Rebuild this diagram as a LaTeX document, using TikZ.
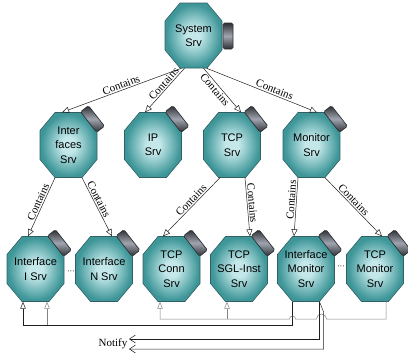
\documentclass[tikz,border=0pt]{standalone}
\usepackage{fontspec}
\setmainfont{Liberation Serif}
\newfontfamily\srvfont{Liberation Sans}
\usetikzlibrary{arrows.meta}

\definecolor{octlight}{RGB}{196,232,234}
\definecolor{octdark}{RGB}{62,150,152}
\definecolor{octline}{RGB}{48,96,100}
\definecolor{portdark}{RGB}{45,47,52}
\definecolor{portlight}{RGB}{160,165,175}
\definecolor{wire}{RGB}{30,30,30}
\definecolor{wiregray}{RGB}{130,130,130}

\pgfdeclareradialshading{octshade}{\pgfpoint{0bp}{0bp}}{%
  color(0bp)=(octlight); color(6bp)=(octlight); color(24bp)=(octdark); color(50bp)=(octdark)}

\tikzset{
  srvtext/.style={shape=rectangle, minimum width=57pt, minimum height=65pt,
    inner sep=0pt, align=center, font=\srvfont\fontsize{11}{14.5}\selectfont},
  octa/.style={shading=octshade, draw=octline, line width=0.6pt},
  port/.style={shape=rectangle, rounded corners=1.5pt, minimum width=26pt,
    minimum height=10pt, inner sep=0pt, draw=portdark, line width=0.7pt,
    top color=portdark, bottom color=portdark, middle color=portlight},
  contains/.style={draw=wire, line width=0.5pt, -{Triangle[open,length=7pt,width=6pt]}},
  upin/.style={line width=0.5pt, -{Triangle[open,length=7pt,width=5.5pt]}},
  barb/.style={draw=wire, line width=0.5pt, -{Straight Barb[length=6pt,width=8pt]}},
  lbl/.style={font=\fontsize{11}{12}\selectfont, sloped, inner sep=1.2pt},
  dots/.style={font=\srvfont\fontsize{8}{8}\selectfont, inner sep=0pt}
}

% octagonal service box: name, x, y, text, port position (top or side)
\newcommand\service[5]{%
  \begin{scope}[shift={(#2,#3)}]
    \shadedraw[octa] (-13.5,-32.5) -- (13.5,-32.5) -- (28.5,-14.5) -- (28.5,14.5)
      -- (13.5,32.5) -- (-13.5,32.5) -- (-28.5,14.5) -- (-28.5,-14.5) -- cycle;
  \end{scope}
  \node[srvtext] (#1) at (#2,#3) {#4};
  \ifx#5s%
    \node[port, rotate=90] (#1-port) at ([xshift=34.5pt,yshift=-0.5pt]#1.center) {};
  \else
    \node[port, rotate=-52] (#1-port) at ([xshift=24pt,yshift=26pt]#1.center) {};
  \fi
}

\begin{document}
\begin{tikzpicture}[x=1pt, y=-1pt]
  \useasboundingbox (0,0) rectangle (408,356);

  % services
  \service{sys}{193.5}{35.5}{System\\Srv}{s}
  \service{ifs}{68.5}{145}{Inter\\faces\\Srv}{t}
  \service{ip}{153}{145}{IP\\Srv}{t}
  \service{tcp}{232}{145}{TCP\\Srv}{t}
  \service{mon}{311.5}{145}{Monitor\\Srv}{t}
  \service{if1}{35.5}{269}{Interface\\I Srv}{t}
  \service{ifn}{104}{269}{Interface\\N Srv}{t}
  \service{tconn}{171.5}{269}{TCP\\Conn\\Srv}{t}
  \service{tsgl}{239}{269}{TCP\\SGL-Inst\\Srv}{t}
  \service{ifmon}{306}{269}{Interface\\Monitor\\Srv}{t}
  \service{tmon}{375}{269}{TCP\\Monitor\\Srv}{t}

  \node[dots] (dotsA) at (71,272) {\textperiodcentered\textperiodcentered\textperiodcentered};
  \node[dots] (dotsB) at (341,267) {\textperiodcentered\textperiodcentered\textperiodcentered};

  % containment
  \draw[contains] ([xshift=-12pt]sys.south) -- node[lbl, above, pos=0.49] {Contains} ([xshift=-6.5pt]ifs.north);
  \draw[contains] ([xshift=-9pt]sys.south) -- node[lbl, above, pos=0.43] {Contains} ([xshift=-8pt]ip.north);
  \draw[contains] ([xshift=10pt]sys.south) -- node[lbl, below, pos=0.41] {Contains} ([xshift=9pt]tcp.north);
  \draw[contains] ([xshift=13pt]sys.south) -- node[lbl, above, pos=0.6] {Contains} ([xshift=5.5pt]mon.north);

  \draw[contains] ([xshift=-13.5pt]ifs.south) -- node[lbl, above, pos=0.45] {Contains} ([xshift=-7.5pt]if1.north);
  \draw[contains] ([xshift=13.5pt]ifs.south) -- node[lbl, above, pos=0.41] {Contains} ([xshift=8pt]ifn.north);
  \draw[contains] ([xshift=-12pt]tcp.south) -- node[lbl, above, pos=0.44] {Contains} ([xshift=-8.5pt]tconn.north);
  \draw[contains] ([xshift=13pt]tcp.south) -- node[lbl, above, pos=0.44] {Contains} ([xshift=11pt]tsgl.north);
  \draw[contains] ([xshift=-13.5pt]mon.south) -- node[lbl, above, pos=0.38] {Contains} ([xshift=-12pt]ifmon.north);
  \draw[contains] ([xshift=13.5pt]mon.south) -- node[lbl, above, pos=0.44] {Contains} ([xshift=7pt]tmon.north);

  % notification wiring
  \coordinate (busA) at (0,325);
  \coordinate (busB) at (0,319);
  \coordinate (ifmonL) at ([xshift=-13.5pt]ifmon.south);
  \coordinate (ifmonR) at ([xshift=13.5pt]ifmon.south);
  \coordinate (if1A) at ([xshift=-12.5pt]if1.south);
  \coordinate (if1B) at ([xshift=11.5pt]if1.south);
  \coordinate (tmonOut) at ([xshift=11pt]tmon.south);
  \coordinate (tconnIn) at ([xshift=-11.5pt]tconn.south);
  \coordinate (tsglIn) at ([xshift=-12pt]tsgl.south);

  \node[inner sep=1.5pt, anchor=east, font=\fontsize{11}{12}\selectfont] (notify) at (129,344) {Notify};

  \draw[upin, draw=wire] (ifmonL) |- (if1A |- busA) -- (if1A);
  \draw[upin, draw=wiregray] (if1B |- busA) -- (if1B);

  \draw[upin, draw=wiregray] (tmonOut) |- (326.5,319)
    arc[start angle=0, end angle=180, radius=5pt] -- (295.5,319)
    arc[start angle=0, end angle=180, radius=3pt] -- (tconnIn |- busB) -- (tconnIn);
  \draw[upin, draw=wiregray] (tsglIn |- busB) -- (tsglIn);

  \draw[barb] (ifmonR) |- ([yshift=5pt]notify.east);
  \draw[barb] (ifmonR) -- ++(4pt,-10pt) |- ([yshift=-5pt]notify.east);
\end{tikzpicture}
\end{document}
